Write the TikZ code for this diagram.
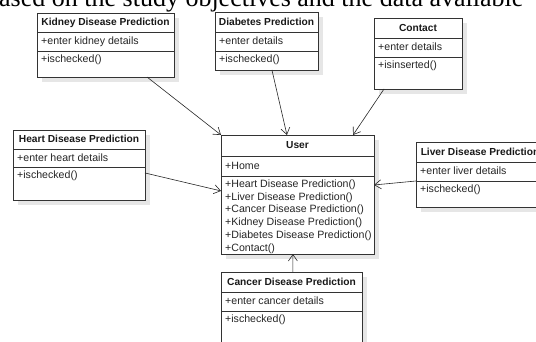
\documentclass[tikz,border=0pt]{standalone}
\usepackage{fontspec}
\setmainfont{Liberation Sans}
\newfontfamily\seriffont{Liberation Serif}
\usetikzlibrary{arrows.meta,calc}
\definecolor{shadowc}{HTML}{E6E6E6}
\definecolor{linec}{HTML}{333333}
\tikzset{
  classbox/.style={draw=linec, line width=0.8pt, fill=white, inner sep=0pt, outer sep=0pt, rectangle},
  classtitle/.style={font=\fontsize{10.2}{12}\selectfont\bfseries, inner sep=0pt, text=black!90, text height=7.5pt, text depth=2pt},
  member/.style={font=\fontsize{10.6}{12.8}\selectfont, inner sep=0pt, anchor=west, text=black!85, text height=7.6pt, text depth=2pt},
  methods/.style={font=\fontsize{10.6}{12.8}\selectfont, inner sep=0pt, anchor=north west, align=left, text=black!85},
  assoc/.style={draw=black!85, line width=0.6pt, -{Straight Barb[length=6.5pt,width=9pt]}},
}
% name, x1, y1, x2, y2, header line, attribute line, title, attribute
\newcommand\umlbox[9]{%
  \fill[shadowc] (#2+5,#3+5) rectangle (#4+5,#5+5);
  \pgfmathsetmacro\umlbw{#4-#2}\pgfmathsetmacro\umlbh{#5-#3}%
  \node[classbox, minimum width=\umlbw pt, minimum height=\umlbh pt] (#1) at ({(#2+#4)/2},{(#3+#5)/2}) {};
  \draw[linec, line width=0.8pt] (#2,#6) -- (#4,#6) (#2,#7) -- (#4,#7);
  \node[classtitle] (#1-title) at ({(#2+#4)/2},{(#3+#6)/2+0.5}) {#8};
  \node[member] (#1-attr) at (#2+4,{(#6+#7)/2+0.5}) {#9};
}
\begin{document}
\begin{tikzpicture}[x=1pt,y=-1pt]
\useasboundingbox (0,0) rectangle (536,342);
\clip (0,0) rectangle (536,342);

\node[anchor=base west, inner sep=0pt, font=\seriffont\fontsize{26}{26}\selectfont] (caption) at (-1,7) {ased on the study objectives and the data available};

\umlbox{kidney}{37}{13}{174}{77}{32}{51}{Kidney Disease Prediction}{+enter kidney details}
\node[methods] (kidney-m) at (41,54.5) {+ischecked()};

\umlbox{diabetes}{215}{12}{318}{70}{32}{51}{Diabetes Prediction}{+enter details}
\node[methods] (diabetes-m) at (219,54.5) {+ischecked()};

\umlbox{contact}{374}{18}{462}{89}{38}{57}{Contact}{+enter details}
\node[methods] (contact-m) at (378,60.5) {+isinserted()};

\umlbox{heart}{13}{130}{145}{200}{149}{167}{Heart Disease Prediction}{+enter heart details}
\node[methods] (heart-m) at (17,170.5) {+ischecked()};

\umlbox{user}{221}{135}{374}{254}{156}{176}{User}{+Home}
\node[methods] (user-m) at (225,179.5) {+Heart Disease Prediction()\\+Liver Disease Prediction()\\+Cancer Disease Prediction()\\+Kidney Disease Prediction()\\+Diabetes Disease Prediction()\\+Contact()};

\umlbox{liver}{416}{142}{544}{207}{162}{181}{Liver Disease Prediction}{+enter liver details}
\node[methods] (liver-m) at (420,184.5) {+ischecked()};

\umlbox{cancer}{221}{272}{362}{350}{292}{311}{Cancer Disease Prediction}{+enter cancer details}
\node[methods] (cancer-m) at (225,314.5) {+ischecked()};

\draw[assoc] ($(kidney.south west)!0.803!(kidney.south east)$) -- (user.north west);
\draw[assoc] ($(diabetes.south west)!0.553!(diabetes.south east)$) -- ($(user.north west)!0.431!(user.north east)$);
\draw[assoc] ($(contact.south west)!0.114!(contact.south east)$) -- ($(user.north west)!0.863!(user.north east)$);
\draw[assoc] ($(heart.north east)!0.614!(heart.south east)$) -- ($(user.north west)!0.47!(user.south west)$);
\draw[assoc] ($(liver.north west)!0.6!(liver.south west)$) -- ($(user.north east)!0.42!(user.south east)$);
\draw[assoc] ($(cancer.north west)!0.51!(cancer.north east)$) -- ($(user.south west)!0.47!(user.south east)$);
\end{tikzpicture}
\end{document}
